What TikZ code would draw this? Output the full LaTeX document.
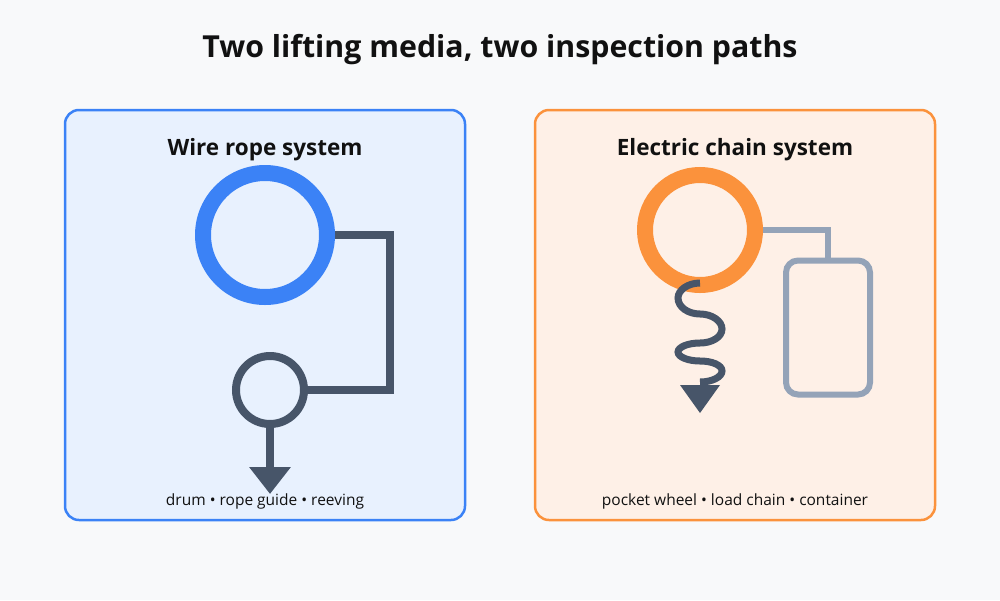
\documentclass[tikz,border=0pt]{standalone}
\usepackage{fontspec}
\setmainfont{Open Sans}
\usetikzlibrary{arrows.meta}
\definecolor{bgc}{HTML}{F8F9FA}
\definecolor{blueS}{HTML}{3B82F6}
\definecolor{blueF}{HTML}{E8F1FE}
\definecolor{orS}{HTML}{FB923C}
\definecolor{orF}{HTML}{FEF0E7}
\definecolor{dark}{HTML}{475569}
\definecolor{grayc}{HTML}{94A3B8}
\definecolor{txt}{HTML}{111111}
\pgfdeclarelayer{bg}
\pgfdeclarelayer{mid}
\pgfsetlayers{bg,mid,main}
\tikzset{
  panel/.style={draw, line width=2.5pt, rounded corners=14pt},
  ring/.style={circle, draw, inner sep=0pt, outer sep=0pt},
  ttl/.style={font=\bfseries\fontsize{22.5}{26}\selectfont, text=txt},
  captxt/.style={font=\fontsize{15.5}{18}\selectfont, text=txt},
}
\begin{document}
\begin{tikzpicture}[x=1pt,y=-1pt]
\begin{pgfonlayer}{bg}
\fill[bgc] (0,0) rectangle (1000,600);
\draw[panel, draw=blueS, fill=blueF] (65,110) rectangle (465,520);
\draw[panel, draw=orS, fill=orF] (535,110) rectangle (935,520);
\end{pgfonlayer}
\useasboundingbox (0,0) rectangle (1000,600);
\node[font=\bfseries\fontsize{30.3}{34}\selectfont, text=txt] (title) at (500,50) {Two lifting media, two inspection paths};
% left panel
\node[ttl] (lt) at (265,150) {Wire rope system};
\node[ring, draw=blueS, line width=16pt, minimum size=124pt] (drum) at (265,235) {};
\node[ring, draw=dark, line width=8pt, minimum size=68pt] (sheave) at (270,390) {};
\coordinate (tipL) at (270,494);
\begin{pgfonlayer}{mid}
\draw[dark, line width=8pt] ([xshift=-8pt]drum.east) -- (390,235) -- (390,390) -- (sheave.east);
\end{pgfonlayer}
\draw[dark, line width=8pt, -{Triangle[width=40pt,length=27pt]}] (sheave.south) -- (tipL);
\node[captxt] (lc) at (265,501) {drum • rope guide • reeving};
% right panel
\node[ttl] (rt) at (735,150) {Electric chain system};
\node[ring, draw=orS, line width=16pt, minimum size=110pt] (wheel) at (700,230) {};
\node[draw=grayc, line width=6pt, rounded corners=12pt, minimum width=84pt, minimum height=134pt, inner sep=0pt, outer sep=0pt] (cont) at (828,327.5) {};
\begin{pgfonlayer}{mid}
\draw[grayc, line width=6pt] ([xshift=-8pt]wheel.east) -| (cont.north);
\end{pgfonlayer}
\coordinate (chs) at (700,283);
\coordinate (che) at (700,382);
\draw[dark, line width=7pt] (chs)
  .. controls (688,283) and (678,290) .. (678,298)
  .. controls (678,307) and (688,314) .. (700,314)
  .. controls (712,314) and (722,321) .. (722,329)
  .. controls (722,337) and (712,343) .. (700,343)
  .. controls (688,343) and (678,347) .. (678,352)
  .. controls (678,357) and (688,361) .. (700,361)
  .. controls (712,361) and (722,365) .. (722,371)
  .. controls (722,377) and (712,382) .. (che);
\coordinate (tipR) at (700,413);
\fill[dark] (680,385) -- (720,385) -- (tipR) -- cycle;
\node[captxt] (rc) at (735,501) {pocket wheel • load chain • container};
\end{tikzpicture}
\end{document}
